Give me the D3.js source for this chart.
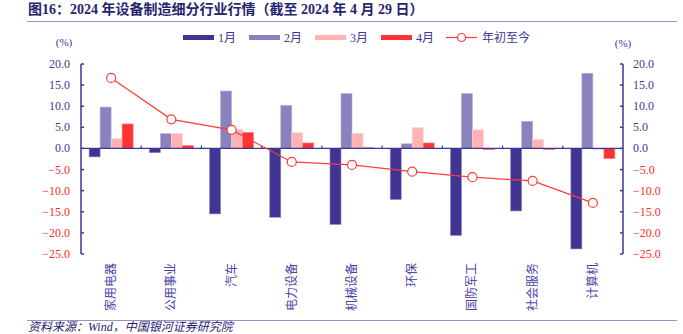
<!DOCTYPE html>
<html><head><meta charset="utf-8">
<script src="https://cdn.jsdelivr.net/npm/d3@7"></script>
<style>
body{margin:0;background:#fff;}
text{font-family:"Liberation Serif","Noto Sans CJK SC",serif;}
</style></head>
<body><svg id="c" width="683" height="334"></svg>
<script>
const categories = ["家用电器","公用事业","汽车","电力设备","机械设备","环保","国防军工","社会服务","计算机"];
const seriesNames = ["1月","2月","3月","4月"];
const jan = [-2.0,-1.0,-15.5,-16.3,-18.0,-12.1,-20.6,-14.8,-23.8];
const feb = [9.8,3.5,13.6,10.2,13.0,1.1,13.0,6.4,17.8];
const mar = [2.3,3.5,4.5,3.7,3.6,4.9,4.4,2.1,-0.3];
const apr = [5.8,0.7,3.8,1.3,0.2,1.3,-0.3,-0.3,-2.4];
const ytd = [16.7,6.9,4.4,-3.2,-3.9,-5.5,-6.8,-7.7,-12.9];
const lineName = "年初至今";
const yTicks = [20,15,10,5,0,-5,-10,-15,-20,-25];
const title = "图16：2024 年设备制造细分行业行情（截至 2024 年 4 月 29 日）";
const source = "资料来源：Wind，中国银河证券研究院";

const colors = ["#403592","#8a82bd","#ffb3b3","#ff3333"];
const strokes = ["#8c86c4","#b3aee0","#ffd0d0","#ff8080"];
const navy = "#3b3796";
const red = "#ff2a2a";
const values = [jan,feb,mar,apr];

const svg = d3.select("#c");
const L = 81, R = 623, T = 64, B = 254;
const y = d3.scaleLinear().domain([-25,20]).range([B,T]);
const x = d3.scaleBand().domain(categories).range([L,R]);
const bw = x.bandwidth();
const x1 = d3.scaleBand().domain(seriesNames).range([bw/2-22, bw/2+22]);

// title
svg.append("text").attr("x",28).attr("y",14).attr("font-size",14).attr("font-weight","bold")
  .attr("fill","#25246e").text(title);
svg.append("line").attr("x1",27).attr("x2",677).attr("y1",21.5).attr("y2",21.5)
  .attr("stroke","#9893c8").attr("stroke-width",1.2);
// footer
svg.append("line").attr("x1",27).attr("x2",677).attr("y1",320.5).attr("y2",320.5)
  .attr("stroke","#9893c8").attr("stroke-width",1.2);
svg.append("text").attr("x",28).attr("y",331).attr("font-size",12).attr("font-style","italic")
  .attr("fill","#25246e").text(source);

// bars
const g = svg.append("g");
seriesNames.forEach((s,si)=>{
  g.selectAll(null).data(values[si]).enter().append("rect")
    .attr("x",(d,i)=>x(categories[i])+x1(s))
    .attr("width",x1.bandwidth())
    .attr("y",d=>y(Math.max(0,d)))
    .attr("height",d=>Math.abs(y(d)-y(0)))
    .attr("fill",colors[si])
    .attr("stroke",strokes[si]).attr("stroke-width",0.6);
});

// zero line with category ticks
svg.append("line").attr("x1",L).attr("x2",R).attr("y1",y(0)).attr("y2",y(0))
  .attr("stroke",navy).attr("stroke-width",1.2);
categories.slice(1).forEach(c=>{
  svg.append("line").attr("x1",x(c)).attr("x2",x(c)).attr("y1",y(0)).attr("y2",y(0)-3)
    .attr("stroke",navy).attr("stroke-width",1.2);
});

// axes
function drawAxis(xpos, side){
  const ag = svg.append("g");
  ag.append("line").attr("x1",xpos).attr("x2",xpos).attr("y1",T).attr("y2",B)
    .attr("stroke",navy).attr("stroke-width",1.5);
  yTicks.forEach(t=>{
    const yy = y(t);
    ag.append("line").attr("x1",xpos).attr("x2",xpos+(side==="left"?3:-3))
      .attr("y1",yy).attr("y2",yy).attr("stroke",navy).attr("stroke-width",1.5);
    ag.append("text").attr("x",side==="left"?xpos-11:xpos+10).attr("y",yy+4)
      .attr("text-anchor",side==="left"?"end":"start").attr("font-size",12)
      .attr("fill",t<0?red:navy).text(d3.format(".1f")(t).replace("-","−"));
  });
}
drawAxis(L,"left");
drawAxis(R,"right");
svg.append("text").attr("x",64).attr("y",46).attr("text-anchor","middle").attr("font-size",11).attr("fill",navy).text("(%)");
svg.append("text").attr("x",623).attr("y",47).attr("text-anchor","middle").attr("font-size",11).attr("fill",navy).text("(%)");

// line
const line = d3.line().x((d,i)=>x(categories[i])+bw/2).y(d=>y(d));
svg.append("path").datum(ytd).attr("d",line).attr("fill","none").attr("stroke","#ff3b3b").attr("stroke-width",1.2);
svg.selectAll(null).data(ytd).enter().append("circle")
  .attr("cx",(d,i)=>x(categories[i])+bw/2).attr("cy",d=>y(d)).attr("r",4.5)
  .attr("fill","#fff").attr("stroke","#ff3b3b").attr("stroke-width",1.2);

// x labels (rotated -90)
categories.forEach(c=>{
  const cx = x(c)+bw/2, cy = 263;
  svg.append("text").attr("font-size",12).attr("fill","#4744a6")
    .attr("text-anchor","end").attr("dominant-baseline","central")
    .attr("transform",`translate(${cx},${cy}) rotate(-90)`).text(c);
});

// legend
const legX = [183,249,315,381];
seriesNames.forEach((s,i)=>{
  svg.append("rect").attr("x",legX[i]).attr("y",35).attr("width",31).attr("height",5).attr("fill",colors[i]);
  svg.append("text").attr("x",legX[i]+35).attr("y",42).attr("font-size",12).attr("fill",navy).text(s);
});
svg.append("line").attr("x1",446).attr("x2",477).attr("y1",37.5).attr("y2",37.5).attr("stroke","#ff3b3b").attr("stroke-width",1.2);
svg.append("circle").attr("cx",461.5).attr("cy",37.5).attr("r",4).attr("fill","#fff").attr("stroke","#ff3b3b").attr("stroke-width",1.2);
svg.append("text").attr("x",482).attr("y",42).attr("font-size",12).attr("fill",navy).text(lineName);
</script></body></html>
